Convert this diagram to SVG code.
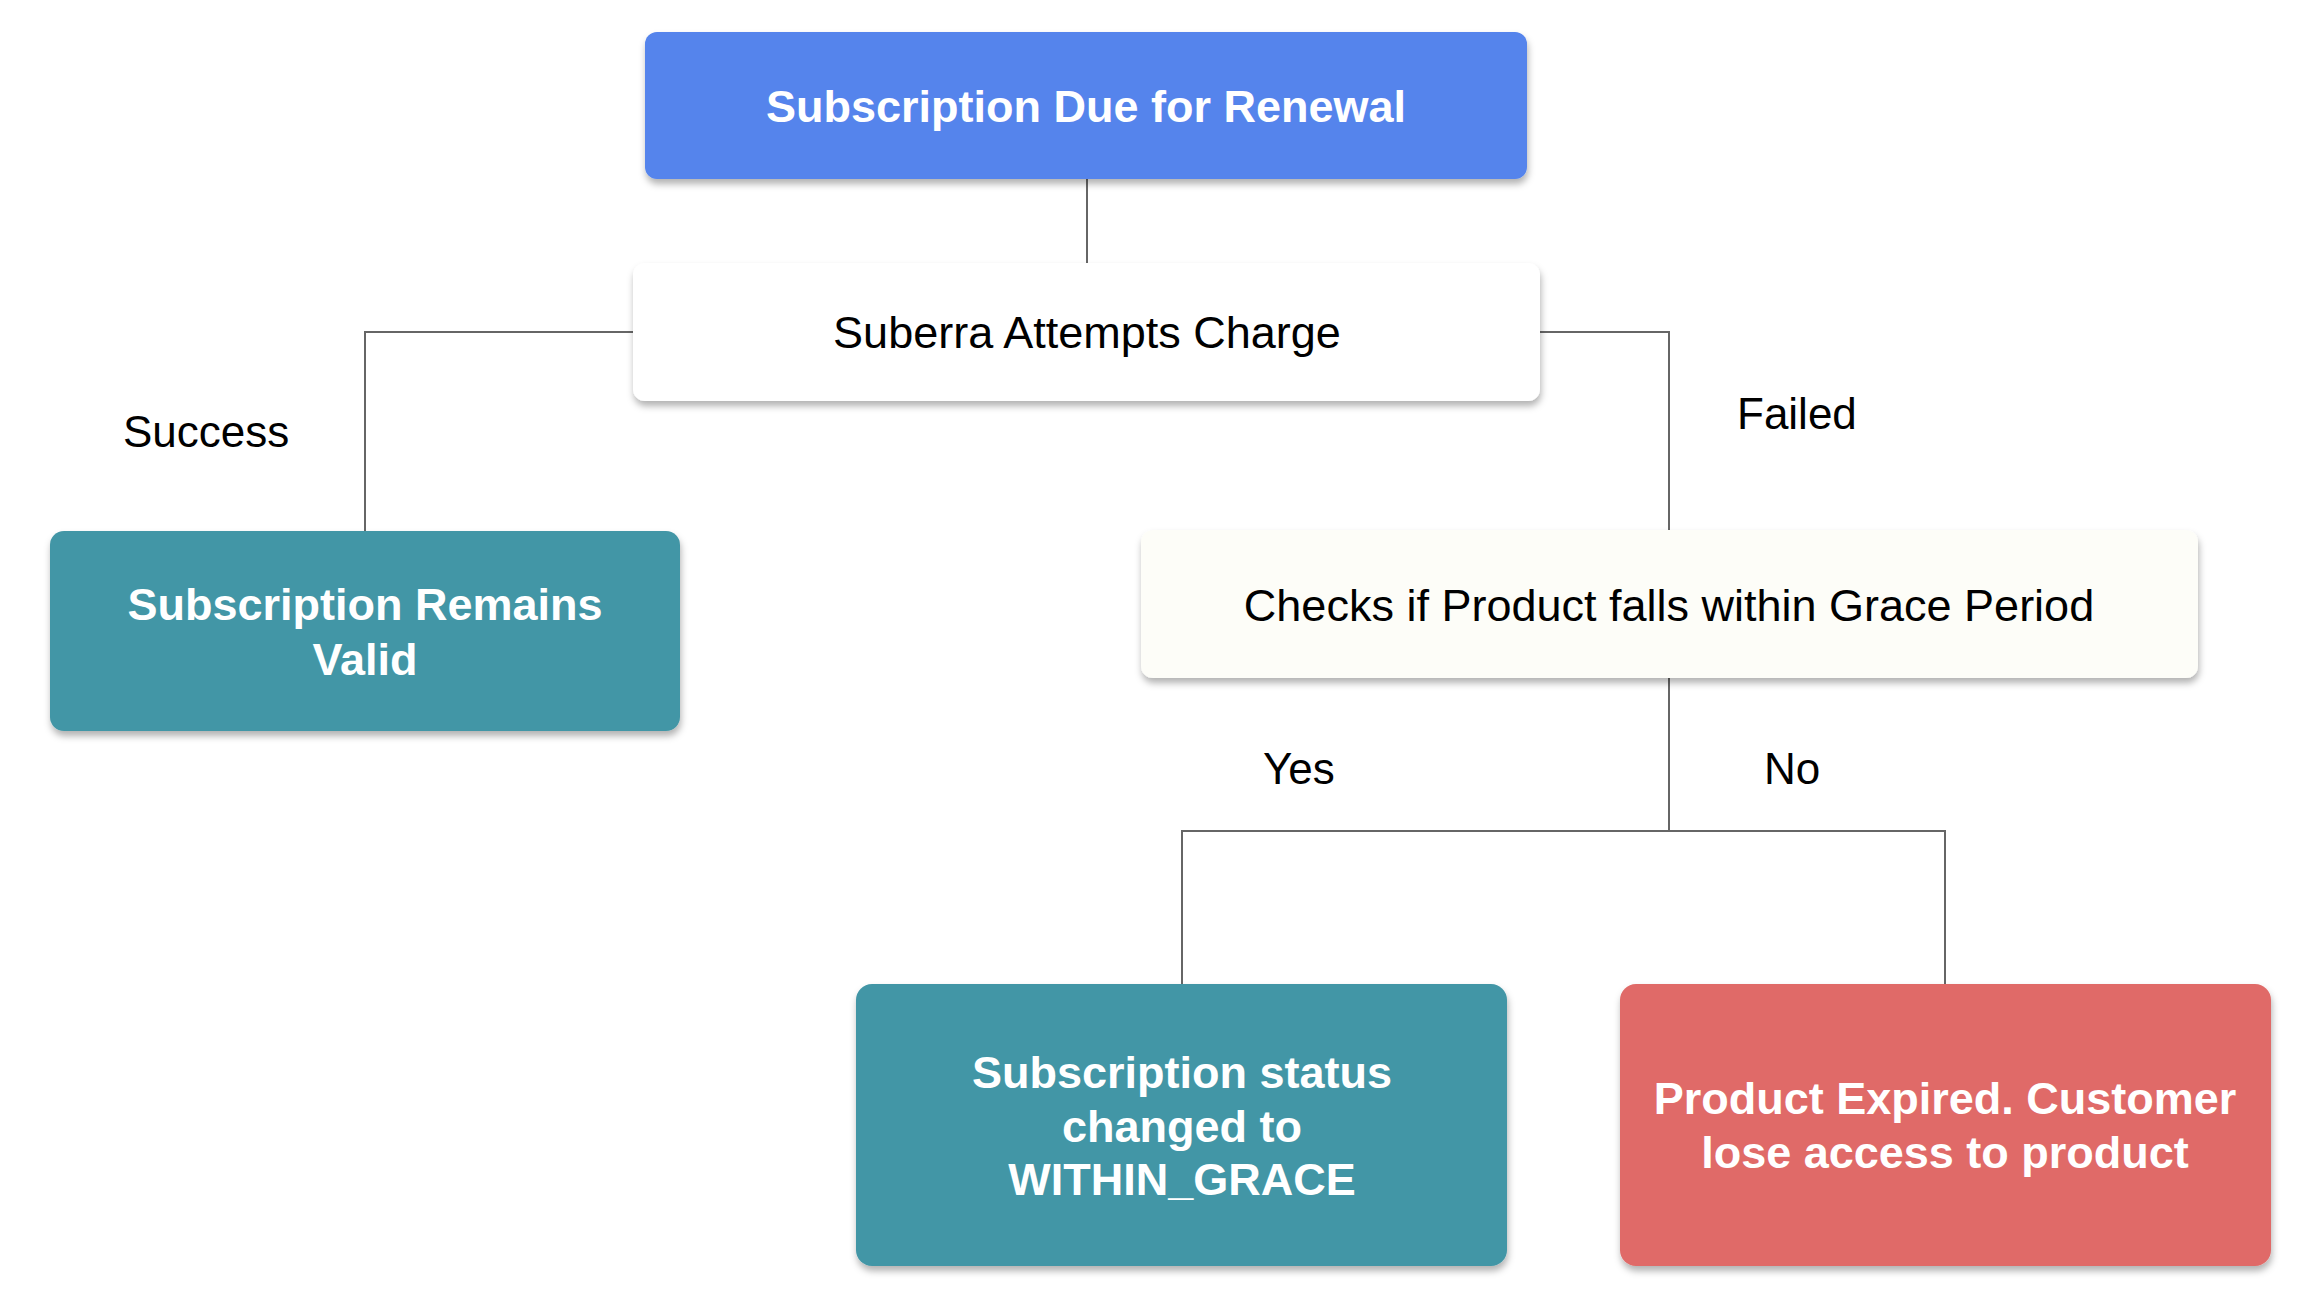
<svg xmlns="http://www.w3.org/2000/svg" width="2302" height="1296" viewBox="0 0 2302 1296">
<defs>
<filter id="sh" x="-5%" y="-10%" width="110%" height="130%">
<feDropShadow dx="1" dy="5" stdDeviation="3.5" flood-color="#000" flood-opacity="0.3"/>
</filter>
</defs>
<style>
.box{filter:url(#sh);}
.bold{font-family:"Liberation Sans",Arial,sans-serif;font-weight:bold;font-size:45px;fill:#ffffff;text-anchor:middle;}
.reg{font-family:"Liberation Sans",Arial,sans-serif;font-size:45px;fill:#000000;text-anchor:middle;}
.lbl{font-family:"Liberation Sans",Arial,sans-serif;font-size:44px;fill:#000000;}
.conn{fill:none;stroke:#666666;stroke-width:2;}
</style>
<rect width="2302" height="1296" fill="#ffffff"/>
<g id="connectors">
<path class="conn" d="M1087 179 V263"/>
<path class="conn" d="M633 332 H365 V531"/>
<path class="conn" d="M1540 332 H1669 V530"/>
<path class="conn" d="M1669 678 V831 M1182 984 V831 H1945 V984"/>
</g>
<g id="labels">
<text class="lbl" x="123" y="447">Success</text>
<text class="lbl" x="1737" y="429">Failed</text>
<text class="lbl" x="1263" y="784">Yes</text>
<text class="lbl" x="1764" y="784">No</text>
</g>
<g id="node-renewal">
<rect class="box" x="645" y="32" width="882" height="147" rx="12" fill="#5484EC"/>
<text class="bold" x="1086" y="122">Subscription Due for Renewal</text>
</g>
<g id="node-charge">
<rect class="box" x="633" y="263" width="907" height="138" rx="12" fill="#ffffff"/>
<text class="reg" x="1087" y="348">Suberra Attempts Charge</text>
</g>
<g id="node-valid">
<rect class="box" x="50" y="531" width="630" height="200" rx="14" fill="#4396A6"/>
<text class="bold" x="365" y="620">Subscription Remains</text>
<text class="bold" x="365" y="675">Valid</text>
</g>
<g id="node-grace">
<rect class="box" x="1141" y="530" width="1057" height="148" rx="12" fill="#FDFDF8"/>
<text class="reg" x="1669" y="621">Checks if Product falls within Grace Period</text>
</g>
<g id="node-within-grace">
<rect class="box" x="856" y="984" width="651" height="282" rx="16" fill="#4396A6"/>
<text class="bold" x="1182" y="1088">Subscription status</text>
<text class="bold" x="1182" y="1142">changed to</text>
<text class="bold" x="1182" y="1195">WITHIN_GRACE</text>
</g>
<g id="node-expired">
<rect class="box" x="1620" y="984" width="651" height="282" rx="16" fill="#E06B68"/>
<text class="bold" x="1945" y="1114">Product Expired. Customer</text>
<text class="bold" x="1945" y="1168">lose access to product</text>
</g>
</svg>
